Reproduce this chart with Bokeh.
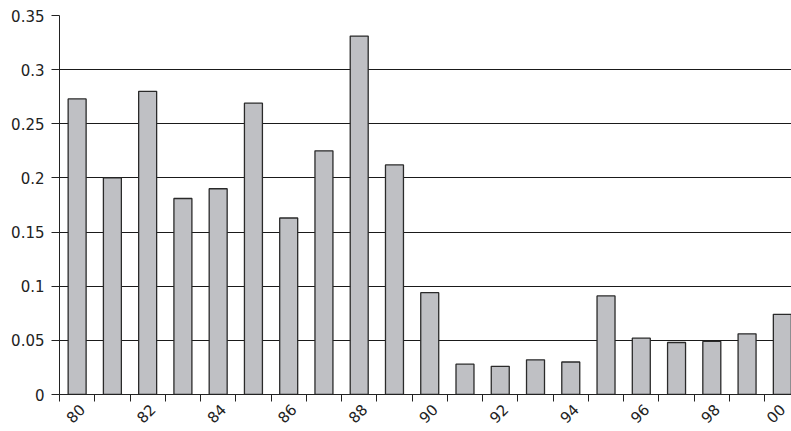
from bokeh.plotting import figure
from bokeh.models import Range1d, FixedTicker, NumeralTickFormatter, ColumnDataSource
from bokeh.embed import file_html
from bokeh.resources import INLINE
import math

years = ["80", "81", "82", "83", "84", "85", "86", "87", "88", "89", "90",
         "91", "92", "93", "94", "95", "96", "97", "98", "99", "00"]
values = [0.273, 0.200, 0.280, 0.181, 0.190, 0.269, 0.163, 0.225, 0.331, 0.212, 0.094,
          0.028, 0.026, 0.032, 0.030, 0.091, 0.052, 0.048, 0.049, 0.056, 0.074]
y_ticks = [0, 0.05, 0.1, 0.15, 0.2, 0.25, 0.3, 0.35]

pos = [i + 0.5 for i in range(len(years))]
src = ColumnDataSource(dict(x=pos, top=values))

FONT = "DejaVu Sans"

p = figure(width=791, height=431, output_backend="svg", toolbar_location=None,
           x_range=Range1d(0, 20.76), y_range=Range1d(0, 0.35),
           min_border_left=59, min_border_right=0, min_border_top=15, min_border_bottom=37)
p.outline_line_color = None
p.background_fill_color = "white"

p.vbar(x="x", top="top", width=0.51, bottom=0, source=src,
       fill_color="#bfc0c4", line_color="#2a2a2a", line_width=1.3)

# y axis
p.yaxis.ticker = FixedTicker(ticks=y_ticks)
p.yaxis.formatter = NumeralTickFormatter(format="0.[00]")
p.yaxis.major_tick_out = 8
p.yaxis.major_tick_in = 0
p.yaxis.minor_tick_line_color = None
p.yaxis.major_label_standoff = 7
p.yaxis.axis_line_color = "#222222"
p.yaxis.major_tick_line_color = "#222222"
p.yaxis.major_label_text_font = FONT
p.yaxis.major_label_text_font_size = "15px"
p.yaxis.major_label_text_color = "#222222"

# x axis: labels every other year, ticks at category boundaries
label_idx = list(range(0, len(years), 2))
label_pos = [pos[i] + (0.14 if i < len(years) - 1 else 0.0) for i in label_idx]
p.xaxis.ticker = FixedTicker(ticks=label_pos, minor_ticks=list(range(len(years) + 1)))
p.xaxis.major_label_overrides = {lp: years[i] for lp, i in zip(label_pos, label_idx)}
p.xaxis.major_tick_line_color = None
p.xaxis.major_tick_out = 0
p.xaxis.major_tick_in = 0
p.xaxis.minor_tick_out = 7
p.xaxis.minor_tick_in = 0
p.xaxis.minor_tick_line_color = "#222222"
p.xaxis.axis_line_color = "#222222"
p.xaxis.major_label_orientation = math.pi / 4
p.xaxis.major_label_standoff = 5
p.xaxis.major_label_text_font = FONT
p.xaxis.major_label_text_font_size = "15px"
p.xaxis.major_label_text_color = "#222222"

p.xgrid.grid_line_color = None
p.ygrid.ticker = FixedTicker(ticks=y_ticks)
p.ygrid.grid_line_color = "#1a1a1a"
p.ygrid.grid_line_width = 1

open("out.html", "w").write(file_html(p, INLINE))
